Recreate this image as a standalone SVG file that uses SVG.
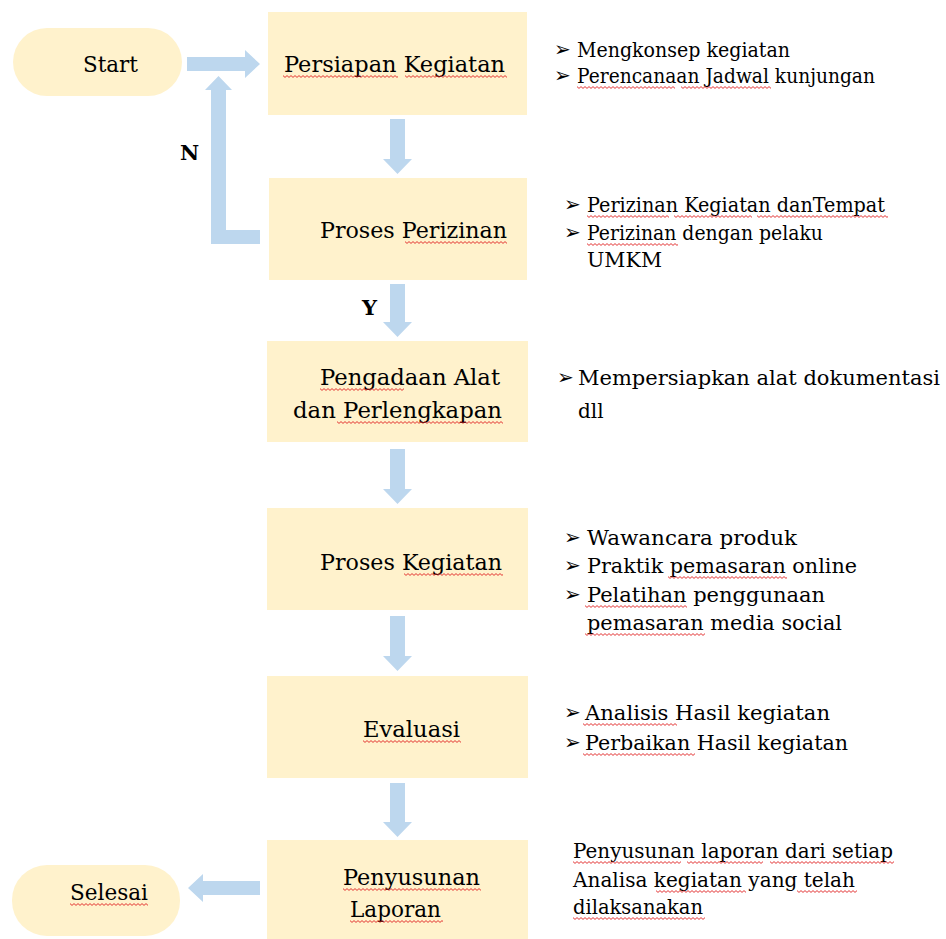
<svg xmlns="http://www.w3.org/2000/svg" width="946" height="939" viewBox="0 0 946 939">
<style>
.box{fill:#FFF2CC}
.arr{fill:#BDD7EE}
.lbl{font-family:"DejaVu Serif","Liberation Serif",serif;font-size:23px;fill:#000}
.bl{font-family:"DejaVu Serif","Liberation Serif",serif;font-size:20px;fill:#000}
.bul{font-family:"DejaVu Sans","Noto Sans",sans-serif;font-size:20px;fill:#000}
.yn{font-family:"DejaVu Serif","Liberation Serif",serif;font-size:21px;font-weight:bold;fill:#000}
.sq{fill:url(#sq)}
</style>
<defs>
<pattern id="sq" width="4" height="3" patternUnits="userSpaceOnUse">
<path d="M0 0.6 L2 2.4 L4 0.6" fill="none" stroke="#E02020" stroke-width="0.9"/>
</pattern>
</defs>
<rect width="946" height="939" fill="#fff"/>

<g id="connectors">
<polygon class="arr" points="187,57 245,57 245,50 260,64 245,78 245,71 187,71"/>
<polygon class="arr" points="260,230 226,230 226,90 232,90 218.5,76 205,90 211,90 211,244 260,244"/>
<polygon class="arr" points="390,119 405,119 405,159 412,159 397.5,174 383,159 390,159"/>
<polygon class="arr" points="390,284 405,284 405,322 412,322 397.5,337 383,322 390,322"/>
<polygon class="arr" points="390,449 405,449 405,489 412,489 397.5,504 383,489 390,489"/>
<polygon class="arr" points="390,616 405,616 405,656 412,656 397.5,671 383,656 390,656"/>
<polygon class="arr" points="390,783 405,783 405,822 412,822 397.5,837 383,822 390,822"/>
<polygon class="arr" points="260,881 203,881 203,874 188,888 203,902 203,895 260,895"/>
<text class="yn" x="180" y="160">N</text>
<text class="yn" x="362" y="315">Y</text>
</g>

<g id="start">
<rect class="box" x="13" y="28" width="169" height="68" rx="34"/>
<text class="lbl" x="83" y="72" textLength="55" lengthAdjust="spacingAndGlyphs">Start</text>
</g>

<g id="persiapan">
<rect class="box" x="268" y="12" width="259" height="103"/>
<text class="lbl" x="284" y="72" textLength="221" lengthAdjust="spacingAndGlyphs">Persiapan Kegiatan</text>
<rect class="sq" transform="translate(283,75)" width="115" height="3"/>
<rect class="sq" transform="translate(405,75)" width="102" height="3"/>
</g>
<g id="persiapan-notes">
<text class="bul" x="554" y="56">➢</text>
<text class="bl" x="577" y="57" textLength="213" lengthAdjust="spacingAndGlyphs">Mengkonsep kegiatan</text>
<text class="bul" x="554" y="82">➢</text>
<text class="bl" x="577" y="83" textLength="298" lengthAdjust="spacingAndGlyphs">Perencanaan Jadwal kunjungan</text>
<rect class="sq" transform="translate(577,86)" width="98" height="3"/>
<rect class="sq" transform="translate(681,86)" width="90" height="3"/>
</g>

<g id="perizinan">
<rect class="box" x="269" y="178" width="258" height="102"/>
<text class="lbl" x="320" y="238" textLength="187" lengthAdjust="spacingAndGlyphs">Proses Perizinan</text>
<rect class="sq" transform="translate(405,241)" width="102" height="3"/>
</g>
<g id="perizinan-notes">
<text class="bul" x="564" y="211">➢</text>
<text class="bl" x="587" y="212" textLength="298" lengthAdjust="spacingAndGlyphs">Perizinan Kegiatan danTempat</text>
<rect class="sq" transform="translate(587,215)" width="82" height="3"/>
<rect class="sq" transform="translate(674,215)" width="78" height="3"/>
<rect class="sq" transform="translate(757,215)" width="131" height="3"/>
<text class="bul" x="564" y="239">➢</text>
<text class="bl" x="587" y="240" textLength="236" lengthAdjust="spacingAndGlyphs">Perizinan dengan pelaku</text>
<rect class="sq" transform="translate(587,243)" width="91" height="3"/>
<text class="bl" x="587" y="267" textLength="75" lengthAdjust="spacingAndGlyphs">UMKM</text>
</g>

<g id="pengadaan">
<rect class="box" x="267" y="341" width="261" height="101"/>
<text class="lbl" x="320" y="385" textLength="180" lengthAdjust="spacingAndGlyphs">Pengadaan Alat</text>
<rect class="sq" transform="translate(320,388)" width="84" height="3"/>
<text class="lbl" x="293" y="418" textLength="209" lengthAdjust="spacingAndGlyphs">dan Perlengkapan</text>
<rect class="sq" transform="translate(337,421)" width="166" height="3"/>
</g>
<g id="pengadaan-notes">
<text class="bul" x="557" y="384">➢</text>
<text class="bl" x="578" y="385" textLength="362" lengthAdjust="spacingAndGlyphs">Mempersiapkan alat dokumentasi</text>
<text class="bl" x="578" y="418">dll</text>
</g>

<g id="proses-kegiatan">
<rect class="box" x="267" y="508" width="261" height="102"/>
<text class="lbl" x="320" y="570" textLength="182" lengthAdjust="spacingAndGlyphs">Proses Kegiatan</text>
<rect class="sq" transform="translate(404,573)" width="99" height="3"/>
</g>
<g id="proses-kegiatan-notes">
<text class="bul" x="564" y="544">➢</text>
<text class="bl" x="587" y="545" textLength="210" lengthAdjust="spacingAndGlyphs">Wawancara produk</text>
<text class="bul" x="564" y="572">➢</text>
<text class="bl" x="587" y="573" textLength="270" lengthAdjust="spacingAndGlyphs">Praktik pemasaran online</text>
<rect class="sq" transform="translate(668,576)" width="119" height="3"/>
<text class="bul" x="564" y="601">➢</text>
<text class="bl" x="587" y="602" textLength="238" lengthAdjust="spacingAndGlyphs">Pelatihan penggunaan</text>
<rect class="sq" transform="translate(585,605)" width="102" height="3"/>
<text class="bl" x="587" y="630" textLength="255" lengthAdjust="spacingAndGlyphs">pemasaran media social</text>
<rect class="sq" transform="translate(585,633)" width="120" height="3"/>
</g>

<g id="evaluasi">
<rect class="box" x="267" y="676" width="261" height="102"/>
<text class="lbl" x="363" y="737" textLength="97" lengthAdjust="spacingAndGlyphs">Evaluasi</text>
<rect class="sq" transform="translate(363,740)" width="98" height="3"/>
</g>
<g id="evaluasi-notes">
<text class="bul" x="564" y="719">➢</text>
<text class="bl" x="585" y="720" textLength="245" lengthAdjust="spacingAndGlyphs">Analisis Hasil kegiatan</text>
<rect class="sq" transform="translate(583,723)" width="94" height="3"/>
<text class="bul" x="564" y="749">➢</text>
<text class="bl" x="585" y="750" textLength="263" lengthAdjust="spacingAndGlyphs">Perbaikan Hasil kegiatan</text>
<rect class="sq" transform="translate(583,753)" width="112" height="3"/>
</g>

<g id="penyusunan">
<rect class="box" x="267" y="840" width="261" height="99"/>
<text class="lbl" x="343" y="885" textLength="137" lengthAdjust="spacingAndGlyphs">Penyusunan</text>
<rect class="sq" transform="translate(343,888)" width="138" height="3"/>
<text class="lbl" x="350" y="917" textLength="91" lengthAdjust="spacingAndGlyphs">Laporan</text>
<rect class="sq" transform="translate(350,920)" width="93" height="3"/>
</g>
<g id="penyusunan-notes">
<text class="bl" x="573" y="858" textLength="320" lengthAdjust="spacingAndGlyphs">Penyusunan laporan dari setiap</text>
<rect class="sq" transform="translate(573,861)" width="108" height="3"/>
<rect class="sq" transform="translate(687,861)" width="76" height="3"/>
<rect class="sq" transform="translate(770,861)" width="124" height="3"/>
<text class="bl" x="573" y="887" textLength="282" lengthAdjust="spacingAndGlyphs">Analisa kegiatan yang telah</text>
<rect class="sq" transform="translate(656,890)" width="90" height="3"/>
<rect class="sq" transform="translate(797,890)" width="60" height="3"/>
<text class="bl" x="573" y="914" textLength="130" lengthAdjust="spacingAndGlyphs">dilaksanakan</text>
<rect class="sq" transform="translate(573,917)" width="132" height="3"/>
</g>

<g id="selesai">
<rect class="box" x="12" y="865" width="168" height="71" rx="35"/>
<text class="lbl" x="70" y="900" textLength="78" lengthAdjust="spacingAndGlyphs">Selesai</text>
<rect class="sq" transform="translate(70,903)" width="78" height="3"/>
</g>
</svg>
